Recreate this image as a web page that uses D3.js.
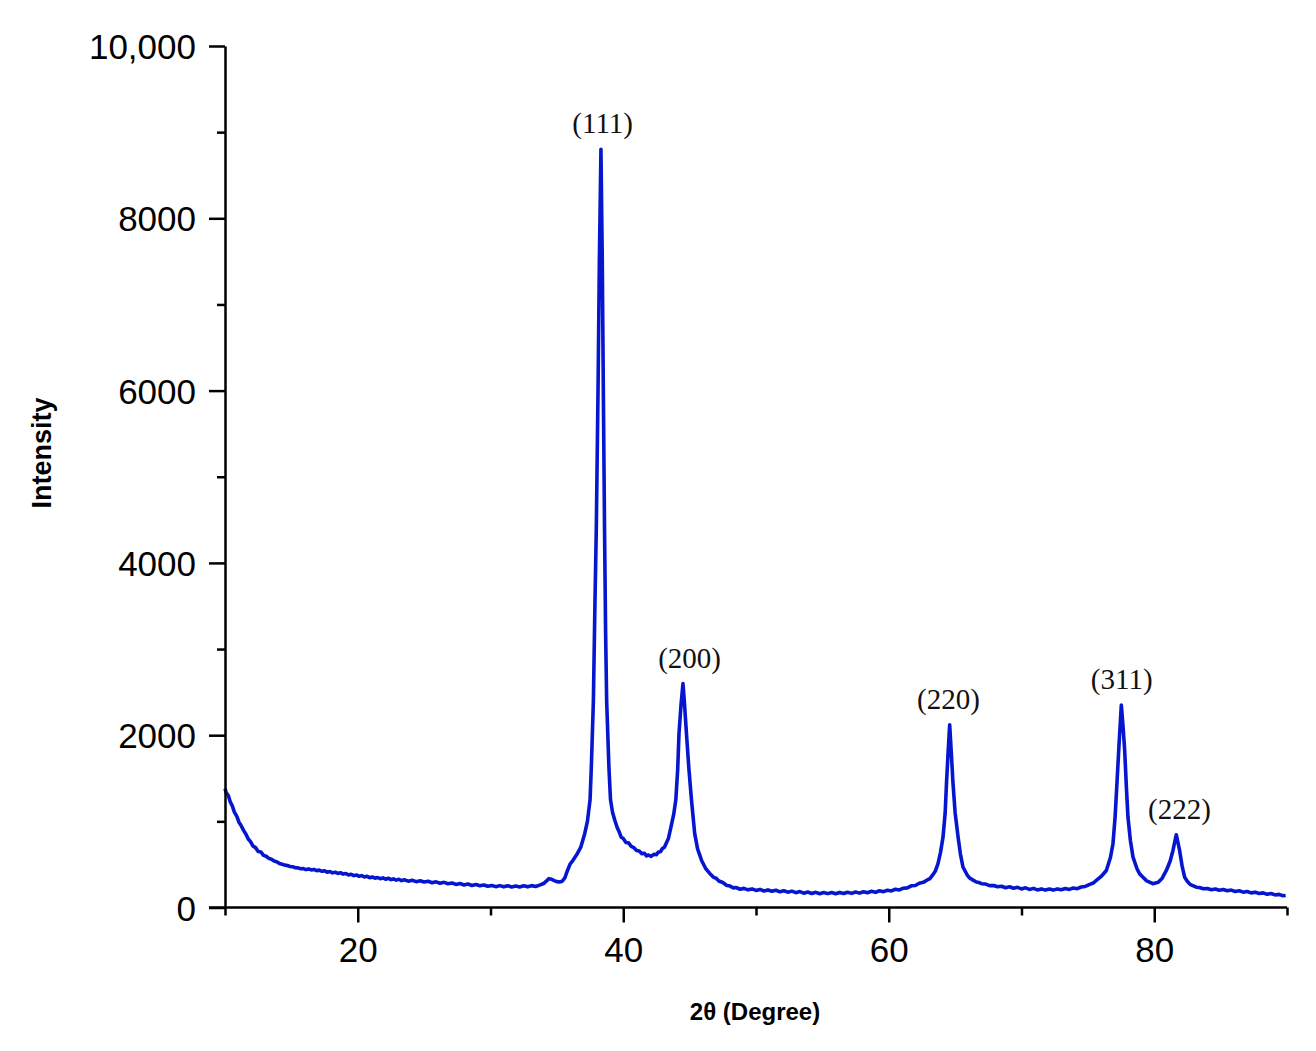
<!DOCTYPE html>
<html>
<head>
<meta charset="utf-8">
<script src="https://cdn.jsdelivr.net/npm/d3@7"></script>
<style>
  html, body { margin: 0; padding: 0; background: #fff; }
  svg { display: block; }
</style>
</head>
<body>
<svg id="chart" width="1316" height="1051"></svg>
<script>
// ---- data: [2θ, intensity] ----
const scanPoints = [
  [10.0,1380],[10.1,1330],[10.25,1300],[10.4,1225],[10.55,1180],[10.7,1110],[10.9,1055],[11.05,990],[11.2,955],[11.4,895],
  [11.6,845],[11.75,795],[11.9,770],[12.1,715],[12.3,695],[12.5,650],[12.7,645],[12.9,605],[13.1,595],[13.3,570],
  [13.5,560],[13.7,540],[13.9,530],[14.1,510],[14.3,502],[14.5,492],[14.7,488],[14.9,476],[15.1,472],[15.3,462],
  [15.5,460],[15.7,450],[15.9,452],[16.1,440],[16.3,448],[16.5,436],[16.7,442],[16.9,428],[17.1,434],[17.3,420],
  [17.5,426],[17.7,410],[17.9,418],[18.1,402],[18.3,410],[18.5,396],[18.7,404],[18.9,388],[19.1,394],[19.3,378],
  [19.5,386],[19.7,370],[19.9,378],[20.1,362],[20.3,370],[20.5,354],[20.7,362],[20.9,346],[21.1,354],[21.3,340],
  [21.5,348],[21.7,334],[21.9,344],[22.1,328],[22.3,340],[22.5,324],[22.7,332],[22.9,318],[23.1,328],[23.3,312],
  [23.5,322],[23.8,306],[24.1,316],[24.4,300],[24.7,310],[25.0,296],[25.3,304],[25.6,288],[25.9,298],[26.2,282],
  [26.5,292],[26.8,276],[27.1,284],[27.4,268],[27.7,278],[28.0,262],[28.3,272],[28.6,256],[28.9,266],[29.2,252],
  [29.5,262],[29.8,246],[30.1,256],[30.4,242],[30.7,254],[31.0,240],[31.3,252],[31.6,238],[31.9,250],[32.2,238],
  [32.5,252],[32.8,240],[33.1,254],[33.4,244],[33.7,260],[34.0,278],[34.2,305],[34.4,335],[34.6,328],[34.8,312],
  [35.0,300],[35.2,296],[35.4,305],[35.6,345],[35.8,430],[36.0,505],[36.2,545],[36.5,615],[36.8,700],[37.1,860],
  [37.3,1000],[37.5,1250],[37.6,1650],[37.75,2400],[37.87,3550],[37.97,4400],[38.1,6000],[38.2,7500],[38.32,8800],[38.42,7500],
  [38.5,6000],[38.59,4400],[38.67,3200],[38.75,2400],[38.92,1630],[39.04,1250],[39.2,1100],[39.37,1010],[39.55,925],[39.7,875],
  [39.85,815],[40.0,800],[40.2,755],[40.4,750],[40.6,710],[40.8,695],[41.0,662],[41.2,655],[41.4,625],[41.6,630],
  [41.75,598],[41.9,610],[42.1,592],[42.3,618],[42.5,612],[42.65,645],[42.8,648],[42.95,685],[43.1,700],[43.4,800],
  [43.6,940],[43.8,1080],[43.96,1250],[44.1,1600],[44.2,2020],[44.35,2350],[44.5,2600],[44.62,2350],[44.76,2020],[44.95,1600],
  [45.14,1250],[45.38,860],[45.6,680],[45.9,546],[46.2,455],[46.5,398],[46.8,350],[47.0,340],[47.2,308],[47.5,290],
  [47.8,255],[48.0,252],[48.3,228],[48.5,232],[48.8,212],[49.1,222],[49.4,205],[49.7,216],[50.0,198],[50.3,210],
  [50.6,192],[50.9,204],[51.2,188],[51.5,200],[51.8,182],[52.1,195],[52.4,178],[52.7,190],[53.0,172],[53.3,185],
  [53.6,166],[53.9,180],[54.2,162],[54.5,176],[54.8,160],[55.1,173],[55.4,161],[55.7,174],[56.0,160],[56.3,175],
  [56.6,162],[56.9,177],[57.2,164],[57.5,180],[57.8,167],[58.1,183],[58.4,171],[58.7,188],[59.0,176],[59.3,194],
  [59.6,184],[59.9,200],[60.2,192],[60.5,212],[60.8,204],[61.1,224],[61.4,228],[61.7,252],[62.0,256],[62.3,282],
  [62.6,292],[62.9,320],[63.1,336],[63.3,375],[63.5,420],[63.71,510],[63.9,640],[64.09,820],[64.25,1100],[64.35,1440],
  [64.47,1800],[64.59,2120],[64.71,1800],[64.84,1440],[65.0,1100],[65.22,820],[65.4,620],[65.59,470],[65.9,380],[66.1,342],
  [66.35,318],[66.6,296],[66.8,290],[67.0,276],[67.3,272],[67.6,254],[67.9,256],[68.2,240],[68.5,246],[68.8,230],
  [69.1,240],[69.4,224],[69.7,234],[70.0,216],[70.3,228],[70.6,210],[70.9,222],[71.2,204],[71.5,216],[71.8,202],
  [72.1,214],[72.4,202],[72.7,216],[73.0,206],[73.3,220],[73.6,210],[73.9,226],[74.2,218],[74.5,238],[74.8,244],
  [75.1,266],[75.4,284],[75.64,314],[76.0,360],[76.39,430],[76.7,580],[76.89,740],[77.05,1050],[77.19,1440],[77.35,1900],
  [77.52,2350],[77.65,2100],[77.77,1830],[77.9,1400],[78.02,1050],[78.2,780],[78.4,585],[78.7,450],[78.9,390],[79.15,352],
  [79.4,312],[79.6,298],[79.9,276],[80.1,284],[80.3,292],[80.6,340],[80.91,430],[81.2,540],[81.41,662],[81.66,845],
  [81.91,662],[82.1,480],[82.29,352],[82.5,302],[82.7,268],[82.9,254],[83.17,236],[83.4,232],[83.7,218],[84.0,220],
  [84.3,206],[84.6,214],[84.9,200],[85.2,208],[85.5,194],[85.8,202],[86.1,186],[86.4,194],[86.7,178],[87.0,186],
  [87.3,170],[87.6,178],[87.9,162],[88.2,170],[88.5,154],[88.8,162],[89.1,146],[89.4,152],[89.7,136],[89.9,140]
];
const peakLabels = ["(111)", "(200)", "(220)", "(311)", "(222)"];
const peakLabelTheta = [38.45, 45.0, 64.5, 77.55, 81.9];
const peakLabelIntensity = [8800, 2600, 2120, 2350, 845];

const xMajorTicks = [20, 40, 60, 80];
const xMinorTicks = [10, 30, 50, 70, 90];
const yMajorTicks = [0, 2000, 4000, 6000, 8000, 10000];
const yMinorTicks = [1000, 3000, 5000, 7000, 9000];
const yTickLabels = ["0", "2000", "4000", "6000", "8000", "10,000"];

// ---- layout ----
const svg = d3.select("#chart");
const x = d3.scaleLinear().domain([10, 90]).range([225, 1287]);
const y = d3.scaleLinear().domain([0, 10000]).range([907.5, 46]);

const axisColor = "#000";
const tickFont = "Liberation Sans, Arial, Helvetica, sans-serif";

// curve
const line = d3.line().x(d => x(d[0])).y(d => y(d[1])).curve(d3.curveLinear);
svg.append("path")
  .datum(scanPoints)
  .attr("d", line)
  .attr("fill", "none")
  .attr("stroke", "#0616cf")
  .attr("stroke-width", 3.6)
  .attr("stroke-linejoin", "round");

// x axis
const gx = svg.append("g").attr("transform", `translate(0,${y(0)})`);
gx.call(d3.axisBottom(x).tickValues(xMajorTicks).tickSize(15).tickSizeOuter(0).tickPadding(15).tickFormat(d3.format("d")));
gx.append("g").call(d3.axisBottom(x).tickValues(xMinorTicks).tickSize(8).tickSizeOuter(0).tickFormat(""))
  .select(".domain").remove();
gx.select(".domain").attr("d", `M${x(10) - 16},0H${x(90)}`);

// y axis
const gy = svg.append("g").attr("transform", `translate(${x(10)},0)`);
gy.call(d3.axisLeft(y).tickValues(yMajorTicks).tickSize(16).tickSizeOuter(0).tickPadding(13)
  .tickFormat((d, i) => yTickLabels[i]));
gy.append("g").call(d3.axisLeft(y).tickValues(yMinorTicks).tickSize(8).tickSizeOuter(0).tickFormat(""))
  .select(".domain").remove();

[gx, gy].forEach(g => {
  g.selectAll(".domain").attr("stroke", axisColor).attr("stroke-width", 2.5);
  g.selectAll(".tick line").attr("stroke", axisColor).attr("stroke-width", 2.5);
  g.selectAll(".tick text").attr("fill", "#000").style("font-family", tickFont).style("font-size", "35px");
});
gy.selectAll(".tick text").attr("dy", "0.36em");

// axis titles
svg.append("text")
  .attr("x", 755).attr("y", 1020)
  .attr("text-anchor", "middle")
  .style("font-family", tickFont).style("font-weight", "bold").style("font-size", "24px")
  .text("2θ (Degree)");
svg.append("text")
  .attr("transform", "translate(51,453) rotate(-90)")
  .attr("text-anchor", "middle")
  .style("font-family", tickFont).style("font-weight", "bold").style("font-size", "27px")
  .text("Intensity");

// peak labels
svg.append("g").selectAll("text")
  .data(peakLabels)
  .join("text")
  .attr("x", (d, i) => x(peakLabelTheta[i]))
  .attr("y", (d, i) => y(peakLabelIntensity[i]) - 16)
  .attr("text-anchor", "middle")
  .style("font-family", "Liberation Serif, 'DejaVu Serif', serif")
  .style("font-size", "29px")
  .attr("fill", "#111")
  .text(d => d);
</script>
</body>
</html>
